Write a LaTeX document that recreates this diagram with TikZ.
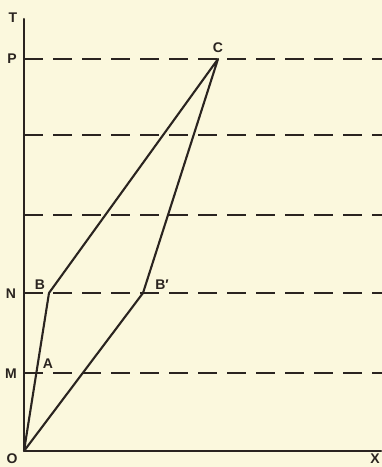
\documentclass[tikz,border=0pt]{standalone}
\usepackage{fontspec}
\setmainfont{Liberation Sans}
\definecolor{paper}{RGB}{251,248,221}
\definecolor{inkc}{RGB}{42,36,32}
\begin{document}
\begin{tikzpicture}[x=1pt,y=-1pt,
  ink/.style={draw=inkc, line width=2.1pt, line cap=round, line join=round},
  level/.style={draw=inkc, line width=1.9pt, dash pattern=on 19pt off 10pt},
  lab/.style={font=\fontsize{14}{14}\selectfont\bfseries, text=inkc, inner sep=0pt}]
\fill[paper] (0,0) rectangle (382,467);
\useasboundingbox (0,0) rectangle (382,467);
\coordinate (O) at (24,451);
\coordinate (Ttop) at (24,19);
\coordinate (Xend) at (381,451);
\coordinate (P) at (24,59);
\coordinate (L2) at (24,135);
\coordinate (L3) at (24,215);
\coordinate (N) at (24,293);
\coordinate (M) at (24,373);
\coordinate (Pe) at (382,59);
\coordinate (L2e) at (382,135);
\coordinate (L3e) at (382,215);
\coordinate (Ne) at (382,293);
\coordinate (Me) at (382,373);
\coordinate (C) at (218,59);
\coordinate (B) at (49,293);
\coordinate (Bp) at (143,293);
\coordinate (A) at (37,373);
\draw[level] (P) -- (Pe);
\draw[level] (L2) -- (L2e);
\draw[level] (L3) -- (L3e);
\draw[level] (N) -- (Ne);
\draw[level] (M) -- (Me);
\draw[ink] (Ttop) -- (O) -- (Xend);
\draw[ink] (O) -- (B) -- (C) -- (Bp) -- (O);
\node[lab] (tT) at (13,18) {T};
\node[lab] (tP) at (12,59) {P};
\node[lab] (tC) at (218,48) {C};
\node[lab] (tN) at (11,294) {N};
\node[lab] (tB) at (40,285) {B};
\node[lab] (tBp) at (162,285) {B′};
\node[lab] (tM) at (11,374) {M};
\node[lab] (tA) at (48,364) {A};
\node[lab] (tO) at (12,459) {O};
\node[lab] (tX) at (375,459) {X};
\end{tikzpicture}
\end{document}
